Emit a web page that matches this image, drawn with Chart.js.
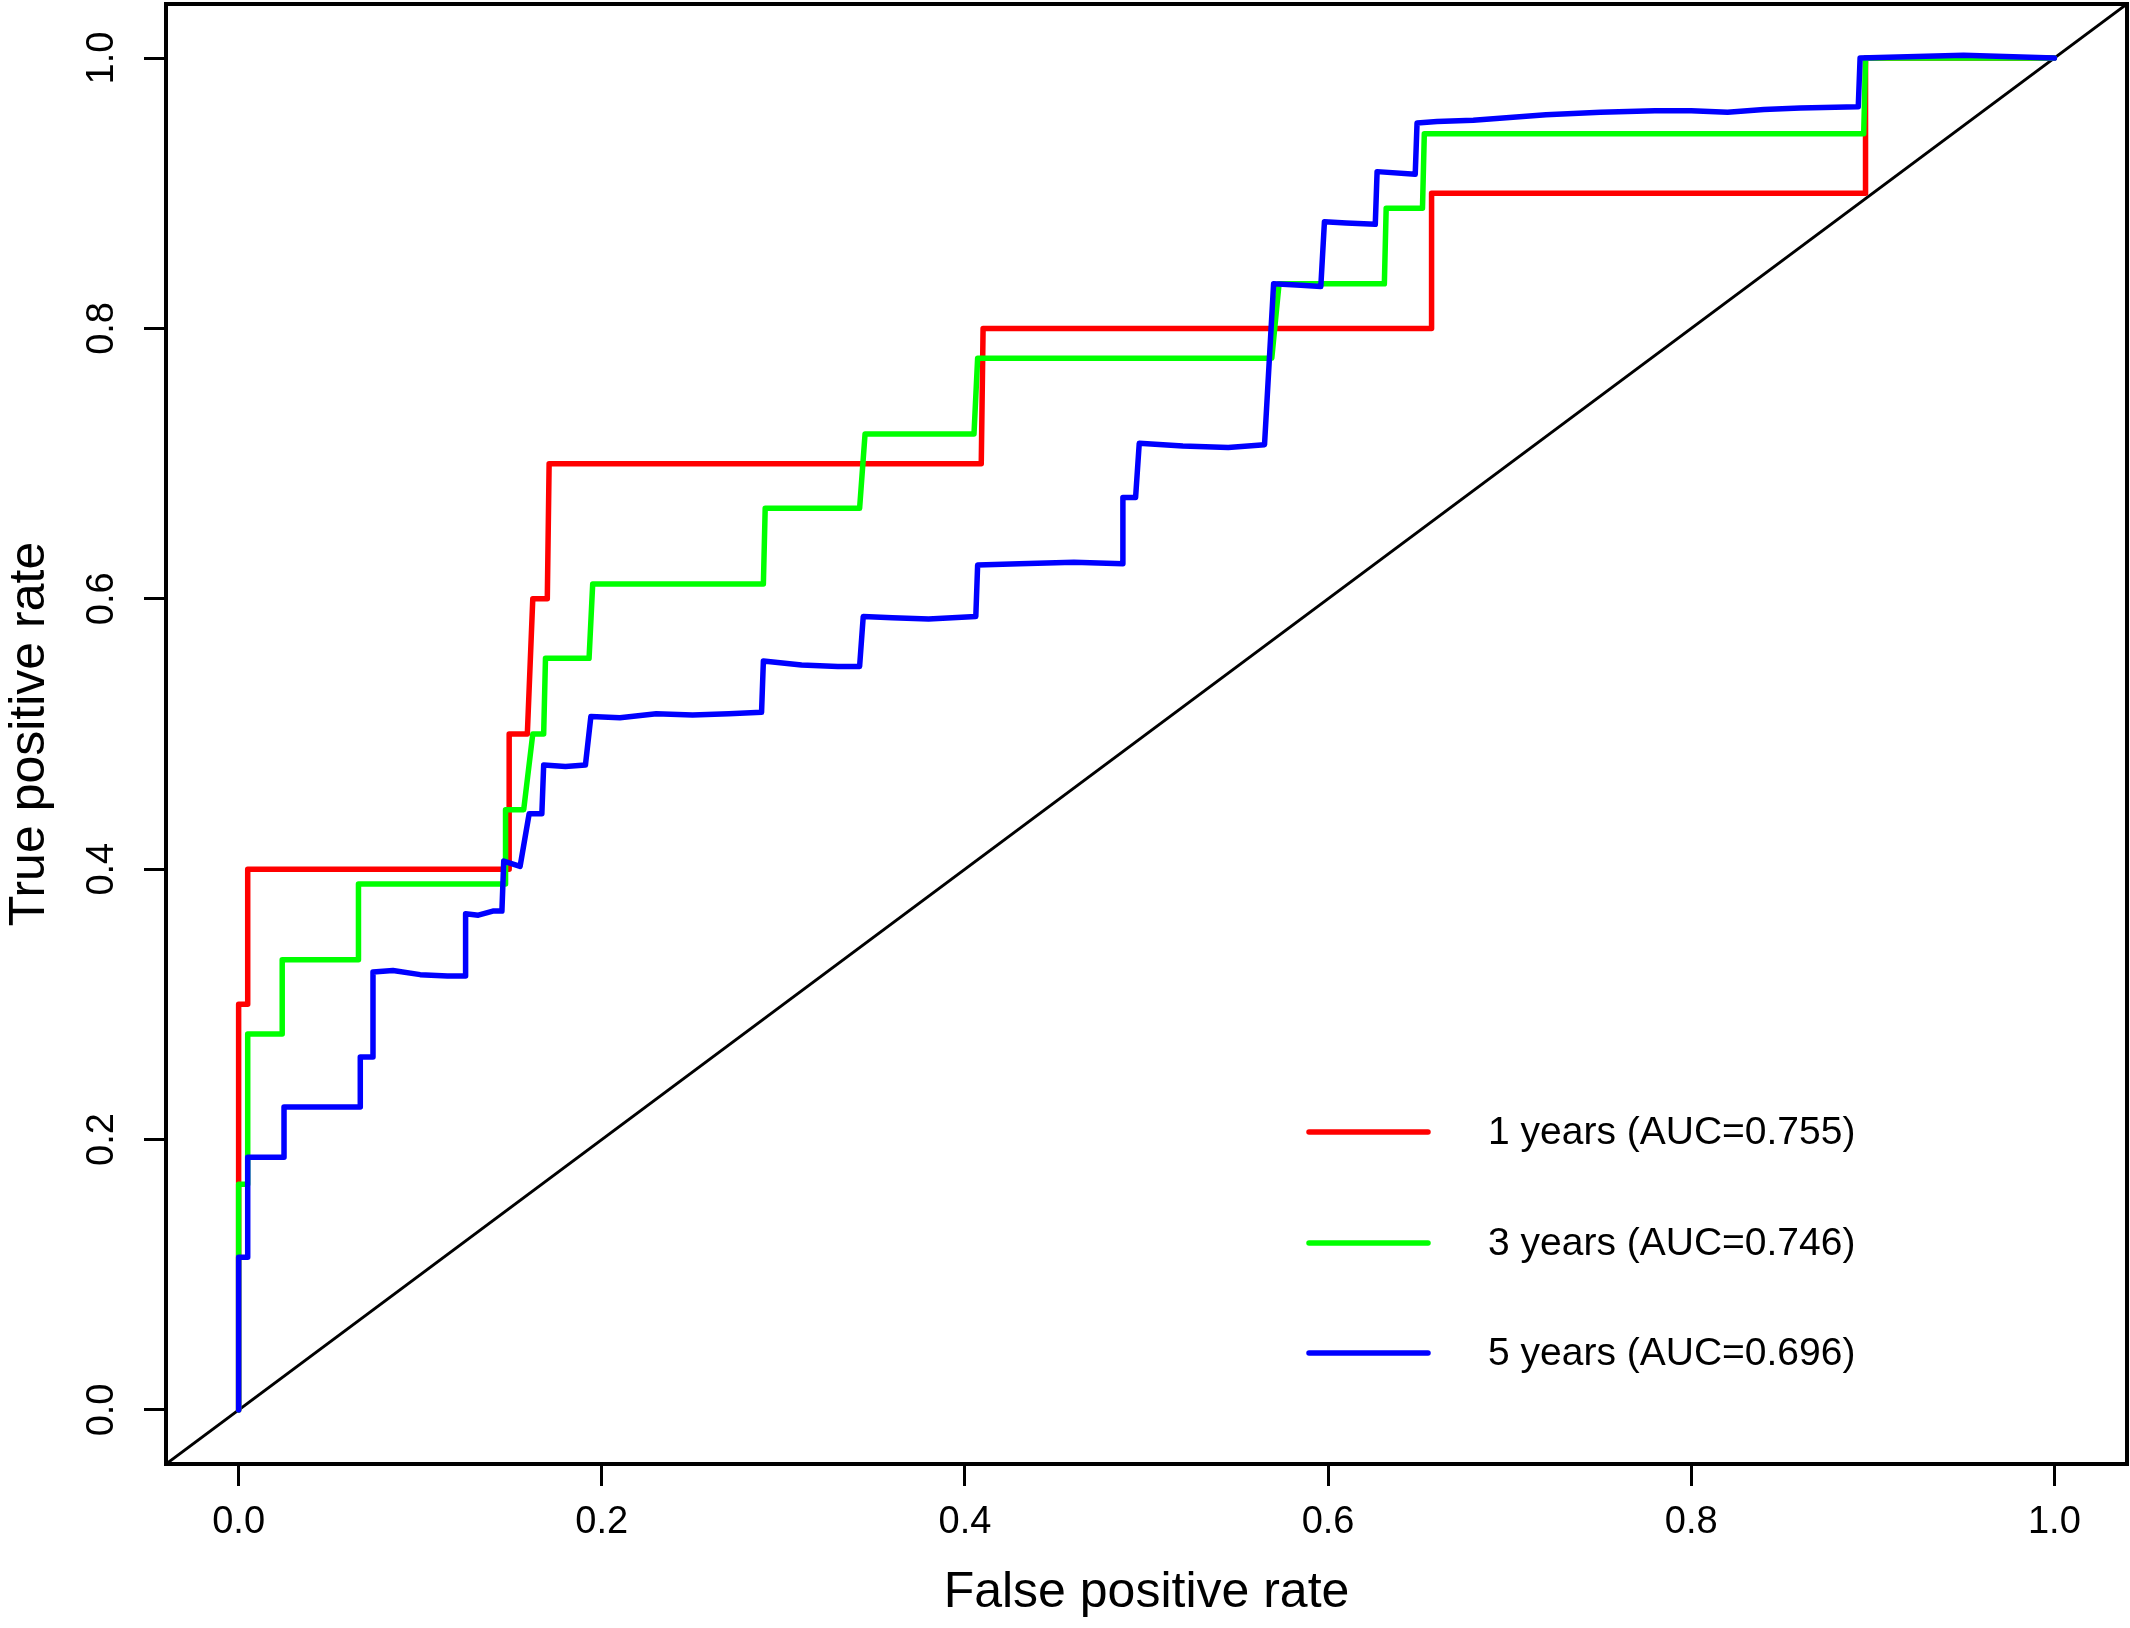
<!DOCTYPE html>
<html>
<head>
<meta charset="utf-8">
<script src="https://cdn.jsdelivr.net/npm/chart.js@4.4.1/dist/chart.umd.min.js"></script>
<style>
  html, body { margin: 0; padding: 0; background: #fff; }
  #wrap { width: 2130px; height: 1628px; }
</style>
</head>
<body>
<div id="wrap"><canvas id="roc" width="2130" height="1628"></canvas></div>
<script>
// ROC curves (false positive rate / true positive rate)
const fpr1 = [0, 0, 0.005, 0.005, 0.149, 0.149, 0.159, 0.162, 0.170, 0.171, 0.409, 0.410, 0.657, 0.657, 0.896, 0.896, 1];
const tpr1 = [0, 0.3, 0.3, 0.4, 0.4, 0.5, 0.5, 0.6, 0.6, 0.7, 0.7, 0.8, 0.8, 0.9, 0.9, 1.0, 1];

const fpr3 = [0, 0, 0, 0.005, 0.005, 0.024, 0.024, 0.066, 0.066, 0.147, 0.147, 0.157, 0.162, 0.168, 0.169,
  0.193, 0.195, 0.289, 0.290, 0.342, 0.345, 0.405, 0.407, 0.569, 0.573, 0.631, 0.632, 0.652, 0.653, 0.895, 0.896, 1];
const tpr3 = [0, 0.111, 0.167, 0.167, 0.278, 0.278, 0.333, 0.333, 0.389, 0.389, 0.444, 0.444, 0.5, 0.5, 0.556,
  0.556, 0.611, 0.611, 0.667, 0.667, 0.722, 0.722, 0.778, 0.778, 0.833, 0.833, 0.889, 0.889, 0.944, 0.944, 1.0, 1];

const fpr5 = [0, 0, 0.005, 0.005, 0.025, 0.025, 0.067, 0.067, 0.074, 0.074, 0.085, 0.100, 0.115, 0.125, 0.125,
  0.132, 0.140, 0.145, 0.146, 0.155, 0.160, 0.167, 0.168, 0.180, 0.191, 0.194, 0.210, 0.230, 0.250, 0.270, 0.288,
  0.289, 0.310, 0.330, 0.342, 0.344, 0.360, 0.380, 0.406, 0.407, 0.430, 0.460, 0.487, 0.487, 0.494, 0.496, 0.520,
  0.545, 0.565, 0.570, 0.585, 0.596, 0.598, 0.610, 0.626, 0.627, 0.648, 0.649, 0.660, 0.680, 0.700, 0.720, 0.750,
  0.780, 0.800, 0.820, 0.840, 0.860, 0.892, 0.893, 0.950, 1];
const tpr5 = [0, 0.113, 0.113, 0.187, 0.187, 0.224, 0.224, 0.261, 0.261, 0.324, 0.325, 0.322, 0.321, 0.321, 0.367,
  0.366, 0.369, 0.369, 0.406, 0.402, 0.441, 0.441, 0.477, 0.476, 0.477, 0.513, 0.512, 0.515, 0.514, 0.515, 0.516,
  0.554, 0.551, 0.550, 0.550, 0.587, 0.586, 0.585, 0.587, 0.625, 0.626, 0.627, 0.626, 0.675, 0.675, 0.715, 0.713,
  0.712, 0.714, 0.833, 0.832, 0.831, 0.879, 0.878, 0.877, 0.916, 0.914, 0.952, 0.953, 0.954, 0.956, 0.958, 0.960,
  0.961, 0.961, 0.960, 0.962, 0.963, 0.964, 1.0, 1.002, 1];

const legendLabels = ['1 years (AUC=0.755)', '3 years (AUC=0.746)', '5 years (AUC=0.696)'];
const seriesColors = ['#ff0000', '#00ff00', '#0000ff'];
const xTicks = [0, 0.2, 0.4, 0.6, 0.8, 1.0];
const yTicks = [0, 0.2, 0.4, 0.6, 0.8, 1.0];

const FONT = '"Liberation Sans", Arial, sans-serif';

// Helper: zip two arrays into {x, y} points
const pts = (xs, ys) => xs.map((x, i) => ({ x, y: ys[i] }));

const curve = (label, xs, ys, color, order) => ({
  label,
  data: pts(xs, ys),
  borderColor: color,
  borderWidth: 5.5,
  pointRadius: 0,
  tension: 0,
  borderJoinStyle: 'round',
  borderCapStyle: 'round',
  order
});

// Frame round the plot region plus the legend (R style)
const framePlugin = {
  id: 'frame',
  afterDatasetsDraw(chart) {
    const { ctx, chartArea: a } = chart;
    ctx.save();
    ctx.strokeStyle = '#000';
    ctx.lineWidth = 4;
    ctx.strokeRect(a.left, a.top, a.right - a.left, a.bottom - a.top);

    // legend
    const rowY = [1132, 1243, 1353];
    ctx.font = `39px ${FONT}`;
    ctx.textBaseline = 'middle';
    ctx.textAlign = 'left';
    legendLabels.forEach((txt, i) => {
      ctx.strokeStyle = seriesColors[i];
      ctx.lineWidth = 5.5;
      ctx.lineCap = 'round';
      ctx.beginPath();
      ctx.moveTo(1309, rowY[i]);
      ctx.lineTo(1428, rowY[i]);
      ctx.stroke();
      ctx.fillStyle = '#000';
      ctx.fillText(txt, 1488, rowY[i] + 1);
    });
    ctx.restore();
  }
};

const tickGrid = {
  display: true,
  drawOnChartArea: false,
  drawTicks: true,
  tickLength: 22,
  tickWidth: 3,
  tickColor: '#000'
};

new Chart(document.getElementById('roc'), {
  type: 'line',
  data: {
    datasets: [
      {
        label: 'diag',
        data: [{ x: -0.04, y: -0.04 }, { x: 1.04, y: 1.04 }],
        borderColor: '#000',
        borderWidth: 3,
        pointRadius: 0,
        order: 4
      },
      curve(legendLabels[0], fpr1, tpr1, seriesColors[0], 3),
      curve(legendLabels[1], fpr3, tpr3, seriesColors[1], 2),
      curve(legendLabels[2], fpr5, tpr5, seriesColors[2], 1)
    ]
  },
  options: {
    responsive: false,
    animation: false,
    devicePixelRatio: 1,
    layout: { padding: { top: 4, right: 3, left: 0, bottom: 0 } },
    plugins: {
      legend: { display: false },
      tooltip: { enabled: false }
    },
    scales: {
      x: {
        type: 'linear',
        position: 'bottom',
        min: -0.04,
        max: 1.04,
        afterBuildTicks: (s) => { s.ticks = xTicks.map(v => ({ value: v })); },
        afterFit: (s) => { s.height = 164; s.paddingLeft = 0; s.paddingRight = 0; },
        ticks: {
          color: '#000',
          font: { family: FONT, size: 38 },
          padding: 14,
          maxRotation: 0,
          autoSkip: false,
          callback: (v) => Number(v).toFixed(1)
        },
        grid: tickGrid,
        border: { display: true, color: '#000', width: 4 },
        title: {
          display: true,
          text: 'False positive rate',
          color: '#000',
          font: { family: FONT, size: 50 },
          padding: { top: 0, bottom: 5 }
        }
      },
      y: {
        type: 'linear',
        position: 'left',
        min: -0.04,
        max: 1.04,
        afterBuildTicks: (s) => { s.ticks = yTicks.map(v => ({ value: v })); },
        afterFit: (s) => { s.width = 166; s.paddingTop = 0; s.paddingBottom = 0; },
        ticks: {
          color: '#000',
          font: { family: FONT, size: 38 },
          padding: 15,
          minRotation: 90,
          maxRotation: 90,
          crossAlign: 'center',
          autoSkip: false,
          callback: (v) => Number(v).toFixed(1)
        },
        grid: tickGrid,
        border: { display: true, color: '#000', width: 4 },
        title: {
          display: true,
          text: 'True positive rate',
          color: '#000',
          font: { family: FONT, size: 50 },
          padding: { top: 0, bottom: 0 }
        }
      }
    }
  },
  plugins: [framePlugin]
});
</script>
</body>
</html>
